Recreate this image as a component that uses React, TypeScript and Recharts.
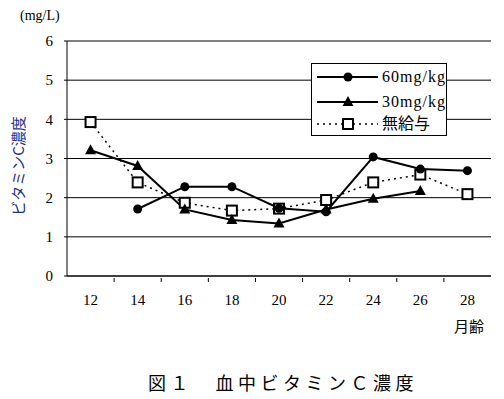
import {
  LineChart,
  Line,
  XAxis,
  YAxis,
  CartesianGrid,
} from 'recharts';

const months = ['12', '14', '16', '18', '20', '22', '24', '26', '28'];
const dose60 = [null, 1.71, 2.28, 2.28, 1.73, 1.64, 3.04, 2.73, 2.69];
const dose30 = [3.21, 2.81, 1.7, 1.43, 1.34, 1.7, 1.97, 2.17, null];
const noSupp = [3.93, 2.39, 1.87, 1.67, 1.72, 1.94, 2.39, 2.59, 2.09];
const yTicks = [0, 1, 2, 3, 4, 5, 6];
const seriesNames = ['60mg/kg', '30mg/kg', '無給与'];

const W = 504;
const H = 399;
const PLOT_LEFT = 67;
const PLOT_RIGHT = 491;
const STEP = (PLOT_RIGHT - PLOT_LEFT) / months.length;

const serif = '"Liberation Serif", "DejaVu Serif", serif';
const cjk = '"Noto Sans CJK JP", sans-serif';

const data = months.map((m, i) => ({
  month: m,
  d60: dose60[i],
  d30: dose30[i],
  none: noSupp[i],
}));

// 月齢の目盛り: 数字は区間の中央、目盛り線は区間の境目
const MonthTick = (props: any) => {
  const { x, y, payload, index } = props;
  return (
    <g>
      <text x={x} y={y + 27} textAnchor="middle" fontSize={15} fontFamily={serif} fill="#000">
        {payload.value}
      </text>
      {index > 0 && (
        <line x1={x - STEP / 2} x2={x - STEP / 2} y1={y} y2={y + 4} stroke="#000" />
      )}
    </g>
  );
};

const CircleDot = (p: any) =>
  p.cy == null ? <g key={p.key} /> : <circle key={p.key} cx={p.cx} cy={p.cy} r={4.5} fill="#000" />;

const TriangleDot = (p: any) =>
  p.cy == null ? (
    <g key={p.key} />
  ) : (
    <polygon
      key={p.key}
      points={`${p.cx},${p.cy - 6} ${p.cx - 5.5},${p.cy + 4} ${p.cx + 5.5},${p.cy + 4}`}
      fill="#000"
    />
  );

const SquareDot = (p: any) =>
  p.cy == null ? (
    <g key={p.key} />
  ) : (
    <rect key={p.key} x={p.cx - 5} y={p.cy - 5} width={10} height={10} fill="#fff" stroke="#000" strokeWidth={2} />
  );

const LegendBox = () => {
  const rows = [
    { y: 13, dash: undefined, mark: <circle cx={36} cy={13} r={4.5} fill="#000" /> },
    { y: 38, dash: undefined, mark: <polygon points="36,32 30.5,42 41.5,42" fill="#000" /> },
    {
      y: 60,
      dash: '2 4',
      mark: <rect x={31} y={55} width={10} height={10} fill="#fff" stroke="#000" strokeWidth={2} />,
    },
  ];
  return (
    <div
      style={{
        position: 'absolute',
        left: 311,
        top: 63,
        width: 136,
        height: 73,
        background: '#fff',
        border: '1px solid #000',
        boxSizing: 'border-box',
      }}
    >
      <svg width={136} height={73} style={{ position: 'absolute', left: 0, top: 0 }}>
        {rows.map((r, i) => (
          <g key={seriesNames[i]}>
            <line x1={5} x2={66} y1={r.y} y2={r.y} stroke="#000" strokeWidth={r.dash ? 1.5 : 2} strokeDasharray={r.dash} />
            {r.mark}
            <text
              x={70}
              y={r.y + 5}
              fontSize={i < 2 ? 16 : 16}
              fontFamily={i < 2 ? serif : cjk}
              letterSpacing={i < 2 ? 1 : 0}
              fill="#000"
            >
              {seriesNames[i]}
            </text>
          </g>
        ))}
      </svg>
    </div>
  );
};

export default function App() {
  return (
    <div style={{ position: 'absolute', left: 0, top: 0, width: W, height: H, background: '#fff' }}>
      <LineChart
        width={W}
        height={H}
        data={data}
        margin={{ top: 41, right: W - PLOT_RIGHT, bottom: 93, left: PLOT_LEFT - 30 }}
      >
        <CartesianGrid vertical={false} stroke="#000" />
        <XAxis
          dataKey="month"
          height={30}
          padding={{ left: STEP / 2, right: STEP / 2 }}
          axisLine={{ stroke: '#000' }}
          tickLine={false}
          tickSize={0}
          tick={<MonthTick />}
          interval={0}
        />
        <YAxis
          width={30}
          domain={[0, 6]}
          ticks={yTicks}
          axisLine={{ stroke: '#000' }}
          tickLine={{ stroke: '#000' }}
          tickSize={3}
          tickMargin={11}
          tick={{ fontSize: 15, fontFamily: serif, fill: '#000' }}
        />
        <YAxis
          yAxisId="right"
          orientation="right"
          width={0}
          domain={[0, 6]}
          tick={false}
          tickLine={false}
          axisLine={{ stroke: '#808080', strokeWidth: 2 }}
        />
        <Line
          dataKey="none"
          name={seriesNames[2]}
          stroke="#000"
          strokeWidth={1.5}
          strokeDasharray="2 4"
          dot={SquareDot}
          isAnimationActive={false}
        />
        <Line
          dataKey="d30"
          name={seriesNames[1]}
          stroke="#000"
          strokeWidth={2}
          dot={TriangleDot}
          isAnimationActive={false}
        />
        <Line
          dataKey="d60"
          name={seriesNames[0]}
          stroke="#000"
          strokeWidth={2}
          dot={CircleDot}
          isAnimationActive={false}
        />
      </LineChart>
      <LegendBox />
      <div style={{ position: 'absolute', left: 20, top: 8, fontSize: 14, fontFamily: serif, color: '#000' }}>
        (mg/L)
      </div>
      <div
        style={{
          position: 'absolute',
          left: 17,
          top: 166,
          transform: 'translate(-50%, -50%) rotate(-90deg)',
          whiteSpace: 'nowrap',
          fontSize: 15,
          fontFamily: cjk,
          color: '#1f2f8f',
        }}
      >
        ビタミンC濃度
      </div>
      <div style={{ position: 'absolute', left: 454, top: 315, fontSize: 15, fontFamily: cjk, color: '#000' }}>
        月齢
      </div>
      <div
        style={{
          position: 'absolute',
          left: 148,
          top: 369,
          fontSize: 18,
          letterSpacing: 4.5,
          fontFamily: cjk,
          color: '#000',
          whiteSpace: 'nowrap',
        }}
      >
        図１　血中ビタミンＣ濃度
      </div>
    </div>
  );
}
